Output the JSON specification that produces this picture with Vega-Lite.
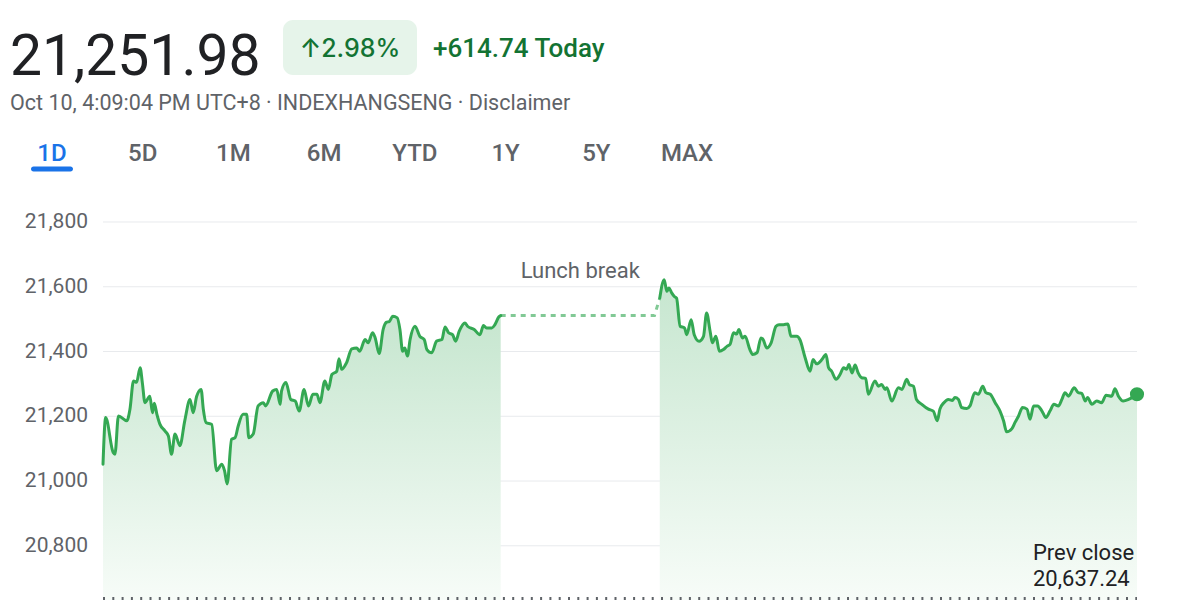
{
  "$schema": "https://vega.github.io/schema/vega-lite/v6.json",
  "padding": {"top": 20, "left": 0, "right": 0, "bottom": 0},
  "background": "#ffffff",
  "spacing": 0,
  "bounds": "full",
  "config": {"view": {"stroke": null}, "font": "Roboto"},
  "datasets": {
    "header": [
      {"key": "price", "text": "21,251.98"},
      {"key": "pct", "text": "↑2.98%"},
      {"key": "change", "text": "+614.74 Today"},
      {"key": "meta", "text": "Oct 10, 4:09:04 PM UTC+8 · INDEXHANGSENG · Disclaimer"}
    ],
    "tabs": [
      {"tab": "1D", "selected": true},
      {"tab": "5D", "selected": false},
      {"tab": "1M", "selected": false},
      {"tab": "6M", "selected": false},
      {"tab": "YTD", "selected": false},
      {"tab": "1Y", "selected": false},
      {"tab": "5Y", "selected": false},
      {"tab": "MAX", "selected": false}
    ],
    "grid": [
      {"price": 20800, "time": "2024-10-10T09:30:00", "end": "2024-10-10T16:00:00"},
      {"price": 21000, "time": "2024-10-10T09:30:00", "end": "2024-10-10T16:00:00"},
      {"price": 21200, "time": "2024-10-10T09:30:00", "end": "2024-10-10T16:00:00"},
      {"price": 21400, "time": "2024-10-10T09:30:00", "end": "2024-10-10T16:00:00"},
      {"price": 21600, "time": "2024-10-10T09:30:00", "end": "2024-10-10T16:00:00"},
      {"price": 21800, "time": "2024-10-10T09:30:00", "end": "2024-10-10T16:00:00"}
    ],
    "prevclose": [
      {"label": "Prev close", "price": 20637.24, "time": "2024-10-10T09:30:00", "end": "2024-10-10T16:00:00"}
    ],
    "lunch": [
      {"time": "2024-10-10T12:00:00", "price": 21511},
      {"time": "2024-10-10T12:58:00", "price": 21511},
      {"time": "2024-10-10T13:00:00", "price": 21565}
    ],
    "notes": [
      {"label": "Lunch break", "time": "2024-10-10T12:30:00", "price": 21511}
    ],
    "prices": [
      {"time": "2024-10-10T09:30:00", "price": 21052, "session": "AM"},
      {"time": "2024-10-10T09:31:00", "price": 21196, "session": "AM"},
      {"time": "2024-10-10T09:33:50", "price": 21088, "session": "AM"},
      {"time": "2024-10-10T09:34:30", "price": 21083, "session": "AM"},
      {"time": "2024-10-10T09:35:50", "price": 21201, "session": "AM"},
      {"time": "2024-10-10T09:39:00", "price": 21186, "session": "AM"},
      {"time": "2024-10-10T09:40:10", "price": 21222, "session": "AM"},
      {"time": "2024-10-10T09:41:30", "price": 21309, "session": "AM"},
      {"time": "2024-10-10T09:42:40", "price": 21305, "session": "AM"},
      {"time": "2024-10-10T09:44:00", "price": 21350, "session": "AM"},
      {"time": "2024-10-10T09:44:50", "price": 21304, "session": "AM"},
      {"time": "2024-10-10T09:45:50", "price": 21242, "session": "AM"},
      {"time": "2024-10-10T09:47:40", "price": 21262, "session": "AM"},
      {"time": "2024-10-10T09:48:40", "price": 21211, "session": "AM"},
      {"time": "2024-10-10T09:49:20", "price": 21240, "session": "AM"},
      {"time": "2024-10-10T09:50:20", "price": 21206, "session": "AM"},
      {"time": "2024-10-10T09:51:30", "price": 21175, "session": "AM"},
      {"time": "2024-10-10T09:53:20", "price": 21155, "session": "AM"},
      {"time": "2024-10-10T09:54:40", "price": 21139, "session": "AM"},
      {"time": "2024-10-10T09:55:50", "price": 21083, "session": "AM"},
      {"time": "2024-10-10T09:57:10", "price": 21145, "session": "AM"},
      {"time": "2024-10-10T09:59:00", "price": 21109, "session": "AM"},
      {"time": "2024-10-10T10:00:50", "price": 21186, "session": "AM"},
      {"time": "2024-10-10T10:02:50", "price": 21252, "session": "AM"},
      {"time": "2024-10-10T10:04:00", "price": 21211, "session": "AM"},
      {"time": "2024-10-10T10:05:20", "price": 21262, "session": "AM"},
      {"time": "2024-10-10T10:07:00", "price": 21283, "session": "AM"},
      {"time": "2024-10-10T10:07:50", "price": 21222, "session": "AM"},
      {"time": "2024-10-10T10:08:50", "price": 21181, "session": "AM"},
      {"time": "2024-10-10T10:11:00", "price": 21175, "session": "AM"},
      {"time": "2024-10-10T10:12:50", "price": 21032, "session": "AM"},
      {"time": "2024-10-10T10:14:50", "price": 21052, "session": "AM"},
      {"time": "2024-10-10T10:15:50", "price": 21032, "session": "AM"},
      {"time": "2024-10-10T10:16:50", "price": 20991, "session": "AM"},
      {"time": "2024-10-10T10:18:30", "price": 21129, "session": "AM"},
      {"time": "2024-10-10T10:19:50", "price": 21134, "session": "AM"},
      {"time": "2024-10-10T10:21:00", "price": 21170, "session": "AM"},
      {"time": "2024-10-10T10:22:50", "price": 21206, "session": "AM"},
      {"time": "2024-10-10T10:24:10", "price": 21206, "session": "AM"},
      {"time": "2024-10-10T10:25:00", "price": 21134, "session": "AM"},
      {"time": "2024-10-10T10:26:40", "price": 21145, "session": "AM"},
      {"time": "2024-10-10T10:28:30", "price": 21232, "session": "AM"},
      {"time": "2024-10-10T10:30:30", "price": 21242, "session": "AM"},
      {"time": "2024-10-10T10:31:20", "price": 21232, "session": "AM"},
      {"time": "2024-10-10T10:34:00", "price": 21278, "session": "AM"},
      {"time": "2024-10-10T10:35:30", "price": 21283, "session": "AM"},
      {"time": "2024-10-10T10:36:50", "price": 21237, "session": "AM"},
      {"time": "2024-10-10T10:37:20", "price": 21278, "session": "AM"},
      {"time": "2024-10-10T10:39:00", "price": 21304, "session": "AM"},
      {"time": "2024-10-10T10:40:50", "price": 21252, "session": "AM"},
      {"time": "2024-10-10T10:42:30", "price": 21247, "session": "AM"},
      {"time": "2024-10-10T10:44:00", "price": 21216, "session": "AM"},
      {"time": "2024-10-10T10:45:50", "price": 21283, "session": "AM"},
      {"time": "2024-10-10T10:47:30", "price": 21232, "session": "AM"},
      {"time": "2024-10-10T10:49:10", "price": 21268, "session": "AM"},
      {"time": "2024-10-10T10:50:40", "price": 21268, "session": "AM"},
      {"time": "2024-10-10T10:51:50", "price": 21242, "session": "AM"},
      {"time": "2024-10-10T10:53:40", "price": 21309, "session": "AM"},
      {"time": "2024-10-10T10:55:00", "price": 21283, "session": "AM"},
      {"time": "2024-10-10T10:56:20", "price": 21329, "session": "AM"},
      {"time": "2024-10-10T10:58:10", "price": 21339, "session": "AM"},
      {"time": "2024-10-10T10:59:00", "price": 21378, "session": "AM"},
      {"time": "2024-10-10T11:00:00", "price": 21345, "session": "AM"},
      {"time": "2024-10-10T11:01:50", "price": 21365, "session": "AM"},
      {"time": "2024-10-10T11:03:50", "price": 21408, "session": "AM"},
      {"time": "2024-10-10T11:05:40", "price": 21411, "session": "AM"},
      {"time": "2024-10-10T11:06:50", "price": 21401, "session": "AM"},
      {"time": "2024-10-10T11:08:50", "price": 21437, "session": "AM"},
      {"time": "2024-10-10T11:10:00", "price": 21427, "session": "AM"},
      {"time": "2024-10-10T11:11:40", "price": 21458, "session": "AM"},
      {"time": "2024-10-10T11:12:40", "price": 21442, "session": "AM"},
      {"time": "2024-10-10T11:14:10", "price": 21394, "session": "AM"},
      {"time": "2024-10-10T11:15:40", "price": 21468, "session": "AM"},
      {"time": "2024-10-10T11:16:50", "price": 21490, "session": "AM"},
      {"time": "2024-10-10T11:18:00", "price": 21493, "session": "AM"},
      {"time": "2024-10-10T11:19:20", "price": 21509, "session": "AM"},
      {"time": "2024-10-10T11:21:00", "price": 21504, "session": "AM"},
      {"time": "2024-10-10T11:22:00", "price": 21468, "session": "AM"},
      {"time": "2024-10-10T11:23:00", "price": 21401, "session": "AM"},
      {"time": "2024-10-10T11:23:50", "price": 21411, "session": "AM"},
      {"time": "2024-10-10T11:24:50", "price": 21386, "session": "AM"},
      {"time": "2024-10-10T11:25:50", "price": 21437, "session": "AM"},
      {"time": "2024-10-10T11:27:40", "price": 21478, "session": "AM"},
      {"time": "2024-10-10T11:29:30", "price": 21447, "session": "AM"},
      {"time": "2024-10-10T11:31:10", "price": 21437, "session": "AM"},
      {"time": "2024-10-10T11:32:10", "price": 21406, "session": "AM"},
      {"time": "2024-10-10T11:34:00", "price": 21396, "session": "AM"},
      {"time": "2024-10-10T11:35:50", "price": 21432, "session": "AM"},
      {"time": "2024-10-10T11:37:50", "price": 21437, "session": "AM"},
      {"time": "2024-10-10T11:39:00", "price": 21476, "session": "AM"},
      {"time": "2024-10-10T11:40:20", "price": 21458, "session": "AM"},
      {"time": "2024-10-10T11:41:50", "price": 21452, "session": "AM"},
      {"time": "2024-10-10T11:43:00", "price": 21432, "session": "AM"},
      {"time": "2024-10-10T11:44:20", "price": 21462, "session": "AM"},
      {"time": "2024-10-10T11:46:30", "price": 21488, "session": "AM"},
      {"time": "2024-10-10T11:47:30", "price": 21478, "session": "AM"},
      {"time": "2024-10-10T11:50:00", "price": 21468, "session": "AM"},
      {"time": "2024-10-10T11:52:10", "price": 21452, "session": "AM"},
      {"time": "2024-10-10T11:53:30", "price": 21480, "session": "AM"},
      {"time": "2024-10-10T11:54:40", "price": 21473, "session": "AM"},
      {"time": "2024-10-10T11:56:40", "price": 21473, "session": "AM"},
      {"time": "2024-10-10T11:57:50", "price": 21483, "session": "AM"},
      {"time": "2024-10-10T11:59:20", "price": 21507, "session": "AM"},
      {"time": "2024-10-10T12:00:00", "price": 21511, "session": "AM"},
      {"time": "2024-10-10T13:00:00", "price": 21565, "session": "PM"},
      {"time": "2024-10-10T13:01:40", "price": 21622, "session": "PM"},
      {"time": "2024-10-10T13:02:40", "price": 21586, "session": "PM"},
      {"time": "2024-10-10T13:03:30", "price": 21596, "session": "PM"},
      {"time": "2024-10-10T13:04:30", "price": 21581, "session": "PM"},
      {"time": "2024-10-10T13:05:30", "price": 21570, "session": "PM"},
      {"time": "2024-10-10T13:06:20", "price": 21565, "session": "PM"},
      {"time": "2024-10-10T13:07:40", "price": 21478, "session": "PM"},
      {"time": "2024-10-10T13:09:20", "price": 21473, "session": "PM"},
      {"time": "2024-10-10T13:10:10", "price": 21452, "session": "PM"},
      {"time": "2024-10-10T13:11:50", "price": 21498, "session": "PM"},
      {"time": "2024-10-10T13:13:00", "price": 21452, "session": "PM"},
      {"time": "2024-10-10T13:14:50", "price": 21432, "session": "PM"},
      {"time": "2024-10-10T13:16:30", "price": 21447, "session": "PM"},
      {"time": "2024-10-10T13:17:40", "price": 21519, "session": "PM"},
      {"time": "2024-10-10T13:19:00", "price": 21462, "session": "PM"},
      {"time": "2024-10-10T13:19:50", "price": 21427, "session": "PM"},
      {"time": "2024-10-10T13:21:10", "price": 21447, "session": "PM"},
      {"time": "2024-10-10T13:22:30", "price": 21401, "session": "PM"},
      {"time": "2024-10-10T13:24:00", "price": 21406, "session": "PM"},
      {"time": "2024-10-10T13:25:20", "price": 21416, "session": "PM"},
      {"time": "2024-10-10T13:26:30", "price": 21422, "session": "PM"},
      {"time": "2024-10-10T13:27:50", "price": 21458, "session": "PM"},
      {"time": "2024-10-10T13:29:00", "price": 21454, "session": "PM"},
      {"time": "2024-10-10T13:29:50", "price": 21468, "session": "PM"},
      {"time": "2024-10-10T13:31:10", "price": 21442, "session": "PM"},
      {"time": "2024-10-10T13:32:10", "price": 21447, "session": "PM"},
      {"time": "2024-10-10T13:34:00", "price": 21406, "session": "PM"},
      {"time": "2024-10-10T13:35:00", "price": 21391, "session": "PM"},
      {"time": "2024-10-10T13:36:40", "price": 21396, "session": "PM"},
      {"time": "2024-10-10T13:38:10", "price": 21442, "session": "PM"},
      {"time": "2024-10-10T13:39:00", "price": 21437, "session": "PM"},
      {"time": "2024-10-10T13:40:20", "price": 21411, "session": "PM"},
      {"time": "2024-10-10T13:42:00", "price": 21427, "session": "PM"},
      {"time": "2024-10-10T13:43:50", "price": 21478, "session": "PM"},
      {"time": "2024-10-10T13:45:00", "price": 21483, "session": "PM"},
      {"time": "2024-10-10T13:46:40", "price": 21483, "session": "PM"},
      {"time": "2024-10-10T13:48:20", "price": 21485, "session": "PM"},
      {"time": "2024-10-10T13:49:30", "price": 21447, "session": "PM"},
      {"time": "2024-10-10T13:51:40", "price": 21447, "session": "PM"},
      {"time": "2024-10-10T13:52:50", "price": 21437, "session": "PM"},
      {"time": "2024-10-10T13:54:50", "price": 21381, "session": "PM"},
      {"time": "2024-10-10T13:56:40", "price": 21339, "session": "PM"},
      {"time": "2024-10-10T13:57:50", "price": 21375, "session": "PM"},
      {"time": "2024-10-10T13:59:10", "price": 21362, "session": "PM"},
      {"time": "2024-10-10T14:01:10", "price": 21375, "session": "PM"},
      {"time": "2024-10-10T14:02:40", "price": 21391, "session": "PM"},
      {"time": "2024-10-10T14:03:40", "price": 21350, "session": "PM"},
      {"time": "2024-10-10T14:04:50", "price": 21339, "session": "PM"},
      {"time": "2024-10-10T14:06:30", "price": 21314, "session": "PM"},
      {"time": "2024-10-10T14:08:00", "price": 21329, "session": "PM"},
      {"time": "2024-10-10T14:09:20", "price": 21350, "session": "PM"},
      {"time": "2024-10-10T14:10:30", "price": 21345, "session": "PM"},
      {"time": "2024-10-10T14:11:20", "price": 21360, "session": "PM"},
      {"time": "2024-10-10T14:12:30", "price": 21334, "session": "PM"},
      {"time": "2024-10-10T14:13:40", "price": 21358, "session": "PM"},
      {"time": "2024-10-10T14:14:50", "price": 21334, "session": "PM"},
      {"time": "2024-10-10T14:16:10", "price": 21319, "session": "PM"},
      {"time": "2024-10-10T14:17:40", "price": 21317, "session": "PM"},
      {"time": "2024-10-10T14:18:40", "price": 21268, "session": "PM"},
      {"time": "2024-10-10T14:21:10", "price": 21309, "session": "PM"},
      {"time": "2024-10-10T14:22:30", "price": 21293, "session": "PM"},
      {"time": "2024-10-10T14:23:40", "price": 21298, "session": "PM"},
      {"time": "2024-10-10T14:25:00", "price": 21283, "session": "PM"},
      {"time": "2024-10-10T14:25:40", "price": 21288, "session": "PM"},
      {"time": "2024-10-10T14:27:30", "price": 21247, "session": "PM"},
      {"time": "2024-10-10T14:30:00", "price": 21288, "session": "PM"},
      {"time": "2024-10-10T14:31:20", "price": 21283, "session": "PM"},
      {"time": "2024-10-10T14:33:10", "price": 21314, "session": "PM"},
      {"time": "2024-10-10T14:34:10", "price": 21298, "session": "PM"},
      {"time": "2024-10-10T14:35:40", "price": 21293, "session": "PM"},
      {"time": "2024-10-10T14:36:50", "price": 21252, "session": "PM"},
      {"time": "2024-10-10T14:38:50", "price": 21237, "session": "PM"},
      {"time": "2024-10-10T14:41:20", "price": 21222, "session": "PM"},
      {"time": "2024-10-10T14:43:10", "price": 21216, "session": "PM"},
      {"time": "2024-10-10T14:44:40", "price": 21186, "session": "PM"},
      {"time": "2024-10-10T14:45:40", "price": 21222, "session": "PM"},
      {"time": "2024-10-10T14:47:10", "price": 21242, "session": "PM"},
      {"time": "2024-10-10T14:48:50", "price": 21252, "session": "PM"},
      {"time": "2024-10-10T14:50:20", "price": 21249, "session": "PM"},
      {"time": "2024-10-10T14:51:20", "price": 21258, "session": "PM"},
      {"time": "2024-10-10T14:52:40", "price": 21252, "session": "PM"},
      {"time": "2024-10-10T14:53:50", "price": 21227, "session": "PM"},
      {"time": "2024-10-10T14:55:50", "price": 21224, "session": "PM"},
      {"time": "2024-10-10T14:57:00", "price": 21232, "session": "PM"},
      {"time": "2024-10-10T14:58:50", "price": 21273, "session": "PM"},
      {"time": "2024-10-10T15:00:10", "price": 21268, "session": "PM"},
      {"time": "2024-10-10T15:01:50", "price": 21293, "session": "PM"},
      {"time": "2024-10-10T15:03:00", "price": 21273, "session": "PM"},
      {"time": "2024-10-10T15:04:40", "price": 21268, "session": "PM"},
      {"time": "2024-10-10T15:06:30", "price": 21242, "session": "PM"},
      {"time": "2024-10-10T15:08:20", "price": 21216, "session": "PM"},
      {"time": "2024-10-10T15:09:40", "price": 21186, "session": "PM"},
      {"time": "2024-10-10T15:10:50", "price": 21152, "session": "PM"},
      {"time": "2024-10-10T15:12:50", "price": 21162, "session": "PM"},
      {"time": "2024-10-10T15:14:00", "price": 21181, "session": "PM"},
      {"time": "2024-10-10T15:15:20", "price": 21201, "session": "PM"},
      {"time": "2024-10-10T15:16:50", "price": 21227, "session": "PM"},
      {"time": "2024-10-10T15:18:30", "price": 21222, "session": "PM"},
      {"time": "2024-10-10T15:19:40", "price": 21191, "session": "PM"},
      {"time": "2024-10-10T15:21:00", "price": 21232, "session": "PM"},
      {"time": "2024-10-10T15:22:30", "price": 21232, "session": "PM"},
      {"time": "2024-10-10T15:24:10", "price": 21216, "session": "PM"},
      {"time": "2024-10-10T15:25:40", "price": 21196, "session": "PM"},
      {"time": "2024-10-10T15:27:10", "price": 21216, "session": "PM"},
      {"time": "2024-10-10T15:28:40", "price": 21237, "session": "PM"},
      {"time": "2024-10-10T15:30:20", "price": 21232, "session": "PM"},
      {"time": "2024-10-10T15:31:40", "price": 21252, "session": "PM"},
      {"time": "2024-10-10T15:32:50", "price": 21273, "session": "PM"},
      {"time": "2024-10-10T15:34:10", "price": 21262, "session": "PM"},
      {"time": "2024-10-10T15:36:20", "price": 21288, "session": "PM"},
      {"time": "2024-10-10T15:37:50", "price": 21273, "session": "PM"},
      {"time": "2024-10-10T15:39:10", "price": 21271, "session": "PM"},
      {"time": "2024-10-10T15:40:30", "price": 21247, "session": "PM"},
      {"time": "2024-10-10T15:41:20", "price": 21258, "session": "PM"},
      {"time": "2024-10-10T15:43:00", "price": 21237, "session": "PM"},
      {"time": "2024-10-10T15:44:50", "price": 21247, "session": "PM"},
      {"time": "2024-10-10T15:46:40", "price": 21242, "session": "PM"},
      {"time": "2024-10-10T15:48:20", "price": 21265, "session": "PM"},
      {"time": "2024-10-10T15:50:30", "price": 21262, "session": "PM"},
      {"time": "2024-10-10T15:51:40", "price": 21285, "session": "PM"},
      {"time": "2024-10-10T15:53:00", "price": 21262, "session": "PM"},
      {"time": "2024-10-10T15:54:50", "price": 21247, "session": "PM"},
      {"time": "2024-10-10T15:56:50", "price": 21252, "session": "PM"},
      {"time": "2024-10-10T16:00:00", "price": 21268, "session": "PM"}
    ]
  },
  "vconcat": [
    {
      "hconcat": [
        {
          "width": 262, "height": 70,
          "data": {"name": "header"},
          "transform": [{"filter": "datum.key === 'price'"}],
          "mark": {"type": "text", "align": "left", "baseline": "alphabetic", "dx": -121, "dy": 20, "fontSize": 57, "color": "#202124"},
          "encoding": {"text": {"field": "text"}}
        },
        {
          "width": 134, "height": 55,
          "view": {"fill": "#e6f4ea", "cornerRadius": 10, "stroke": null},
          "data": {"name": "header"},
          "transform": [{"filter": "datum.key === 'pct'"}],
          "mark": {"type": "text", "align": "center", "baseline": "alphabetic", "dy": 9.2, "font": "Inter", "fontSize": 25, "fontWeight": 500, "color": "#137333"},
          "encoding": {"text": {"field": "text"}}
        },
        {
          "width": 168, "height": 70,
          "data": {"name": "header"},
          "transform": [{"filter": "datum.key === 'change'"}],
          "mark": {"type": "text", "align": "left", "baseline": "alphabetic", "dx": -89, "dy": 1.7, "fontSize": 26, "fontWeight": 500, "color": "#137333"},
          "encoding": {"text": {"field": "text"}}
        }
      ],
      "spacing": 21,
      "bounds": "flush"
    },
    {
      "width": 20, "height": 30,
      "data": {"name": "header"},
      "transform": [{"filter": "datum.key === 'meta'"}],
      "mark": {"type": "text", "align": "left", "baseline": "alphabetic", "dy": 5, "fontSize": 21.5, "color": "#5f6368"},
      "encoding": {"text": {"field": "text"}}
    },
    {
      "width": 739, "height": 70,
      "data": {"name": "tabs"},
      "encoding": {
        "x": {"field": "tab", "type": "nominal", "sort": null, "axis": null,
              "scale": {"type": "point", "padding": 0.573, "domain": ["1D", "5D", "1M", "6M", "YTD", "1Y", "5Y", "MAX"]}}
      },
      "layer": [
        {
          "mark": {"type": "text", "align": "center", "baseline": "alphabetic", "dy": 5.5, "fontSize": 24, "fontWeight": 500},
          "encoding": {
            "text": {"field": "tab"},
            "color": {"condition": {"test": "datum.selected", "value": "#1a73e8"}, "value": "#5f6368"}
          }
        },
        {
          "transform": [{"filter": "datum.selected"}],
          "mark": {"type": "tick", "orient": "horizontal", "size": 42, "thickness": 5, "cornerRadius": 2.5, "yOffset": 14, "color": "#1a73e8", "opacity": 1}
        }
      ]
    },
    {
      "width": 1200, "height": 410,
      "encoding": {
        "x": {"field": "time", "type": "temporal", "axis": null,
              "scale": {"domain": [
                {"year": 2024, "month": 10, "date": 10, "hours": 8, "minutes": 51, "seconds": 9},
                {"year": 2024, "month": 10, "date": 10, "hours": 16, "minutes": 23, "seconds": 46}
              ]}},
        "y": {"field": "price", "type": "quantitative", "axis": null, "stack": null,
              "scale": {"domain": [20632.6, 21898.8], "zero": false, "nice": false}}
      },
      "layer": [
        {
          "data": {"name": "grid"},
          "mark": {"type": "rule", "color": "#e8eaed", "strokeWidth": 1},
          "encoding": {"x2": {"field": "end"}}
        },
        {
          "data": {"name": "grid"},
          "mark": {"type": "text", "align": "right", "baseline": "middle", "dx": -15, "fontSize": 21, "color": "#5f6368"},
          "encoding": {"text": {"field": "price", "type": "quantitative", "format": ","}}
        },
        {
          "data": {"name": "prices"},
          "mark": {"type": "area", "interpolate": "monotone",
                   "fill": {"gradient": "linear", "x1": 0, "y1": 1, "x2": 0, "y2": 0,
                            "stops": [{"offset": 0, "color": "#f7fcf8"}, {"offset": 1, "color": "#c6e6cf"}]}},
          "encoding": {"detail": {"field": "session"}}
        },
        {
          "data": {"name": "prevclose"},
          "mark": {"type": "rule", "color": "#5f6368", "strokeWidth": 3, "strokeDash": [2, 7.3]},
          "encoding": {"x2": {"field": "end"}}
        },
        {
          "data": {"name": "lunch"},
          "mark": {"type": "line", "color": "#81c995", "strokeWidth": 3, "strokeDash": [5, 5]},
          "encoding": {}
        },
        {
          "data": {"name": "prices"},
          "mark": {"type": "line", "interpolate": "monotone", "color": "#34a853", "strokeWidth": 3, "strokeJoin": "round", "strokeCap": "round"},
          "encoding": {"detail": {"field": "session"}}
        },
        {
          "data": {"name": "prices"},
          "transform": [
            {"window": [{"op": "row_number", "as": "rn"}], "sort": [{"field": "time", "order": "descending"}]},
            {"filter": "datum.rn === 1"}
          ],
          "mark": {"type": "circle", "size": 200, "color": "#34a853", "opacity": 1}
        },
        {
          "data": {"name": "notes"},
          "mark": {"type": "text", "align": "center", "baseline": "middle", "dy": -45, "fontSize": 22, "color": "#5f6368"},
          "encoding": {"text": {"field": "label"}}
        },
        {
          "data": {"name": "prevclose"},
          "mark": {"type": "text", "align": "left", "baseline": "alphabetic", "dx": -104, "dy": -38.5, "fontSize": 22, "color": "#202124"},
          "encoding": {"x": {"field": "end", "type": "temporal"}, "text": {"field": "label"}}
        },
        {
          "data": {"name": "prevclose"},
          "mark": {"type": "text", "align": "left", "baseline": "alphabetic", "dx": -104, "dy": -12.5, "fontSize": 22, "color": "#202124"},
          "encoding": {"x": {"field": "end", "type": "temporal"}, "text": {"field": "price", "type": "quantitative", "format": ",.2f"}}
        }
      ]
    }
  ]
}
